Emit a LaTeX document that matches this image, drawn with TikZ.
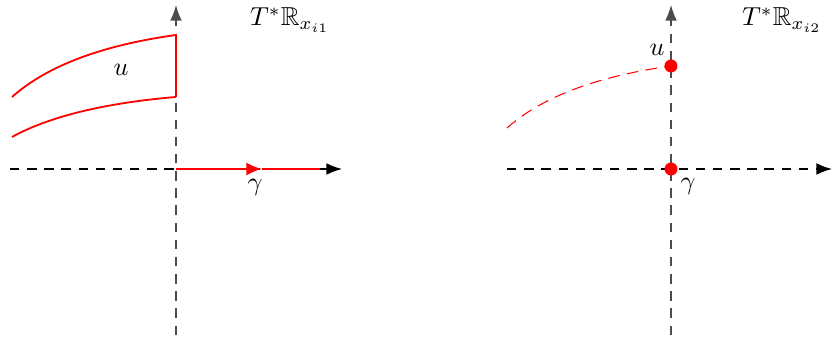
\documentclass[tikz,border=0pt]{standalone}
\usepackage{amsmath,amssymb}
\usetikzlibrary{positioning,arrows.meta}
\tikzset{
  axisline/.style={dash pattern=on 3.6pt off 3pt, line width=0.5pt, -{Latex[length=6pt,width=4.5pt]}},
  reddot/.style={circle, fill=red, inner sep=0pt, minimum size=5pt},
}
\begin{document}
\begin{tikzpicture}[scale=0.5406]
                \useasboundingbox (-4.4,-4.25) rectangle (16.425,4.225);

                % Left: T*R_{x_{i1}}
                \coordinate (o1) at (0,0);
                \coordinate (xl1) at (-4.15,0);
                \coordinate (xr1) at (4.15,0);
                \coordinate (yb1) at (0,-4.15);
                \coordinate (yt1) at (0,4.1);
                \draw[axisline, black!70] (yb1) -- (yt1);
                \draw[axisline] (xl1) -- (xr1);

                % Region u
                \coordinate (ua) at (-4.1,1.8);
                \coordinate (ub) at (0,3.35);
                \coordinate (uc) at (-4.1,0.8);
                \coordinate (ud) at (0,1.8);
                \draw[red, line width=0.7pt] (ua) .. controls (-3.2,2.6) and (-1.8,3.1) .. (ub) -- (ud);
                \draw[red, line width=0.7pt] (uc) .. controls (-3.2,1.3) and (-1.8,1.65) .. (ud);
                \node (u1) at (-1.375,2.475) {$u$};

                % Path gamma
                \coordinate (g1) at (2.15,0);
                \coordinate (g2) at (3.6,0);
                \draw[red, thick, -{Latex[length=6pt,width=5pt]}] (o1) -- (g1);
                \draw[red, thick] (g1) -- (g2);
                \node (gam1) at (1.975,-0.45) {$\gamma$};

                \node (T1) at (2.85,3.72) {$T^*\mathbb{R}_{x_{i1}}$};

                % Right: T*R_{x_{i2}}
                \coordinate (o2) at (12.375,0);
                \coordinate (xl2) at (8.275,0);
                \coordinate (xr2) at (16.4,0);
                \coordinate (yb2) at (12.375,-4.15);
                \coordinate (yt2) at (12.375,4.1);
                \draw[axisline, black!70] (yb2) -- (yt2);
                \draw[axisline] (xl2) -- (xr2);

                \node[reddot] (p2) at (12.375,2.575) {};
                \node[reddot] (q2) at (o2) {};
                \draw[red, line width=0.4pt, dash pattern=on 4.5pt off 2.8pt]
                    (8.275,1.025) .. controls (9.175,1.825) and (10.575,2.325) .. (p2.center);
                \node (u2) at (12.025,2.975) {$u$};
                \node (gam2) at (12.8,-0.425) {$\gamma$};

                \node (T2) at (15.15,3.72) {$T^*\mathbb{R}_{x_{i2}}$};
            \end{tikzpicture}
\end{document}
